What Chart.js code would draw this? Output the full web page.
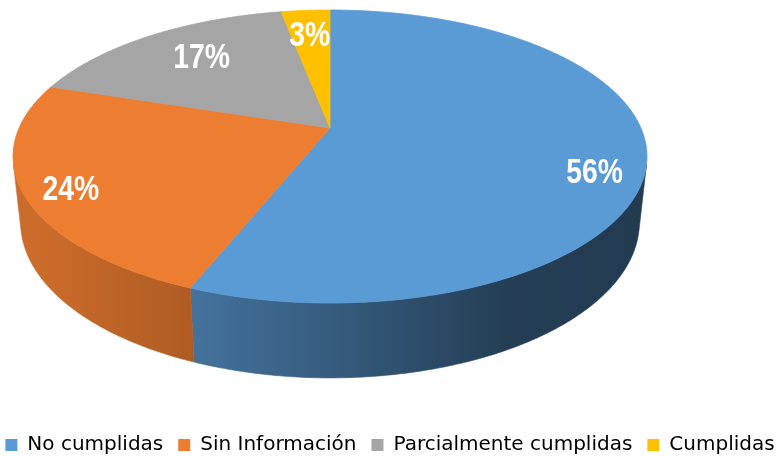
<!DOCTYPE html>
<html>
<head>
<meta charset="utf-8">
<script src="https://cdn.jsdelivr.net/npm/chart.js@4.4.1/dist/chart.umd.min.js"></script>
<style>
  html, body { margin: 0; padding: 0; background: #fff; }
  #wrap { width: 776px; height: 457px; position: relative; }
</style>
</head>
<body>
<div id="wrap"><canvas id="chart"></canvas></div>
<script>
const categories = ["No cumplidas", "Sin Información", "Parcialmente cumplidas", "Cumplidas"]
const percents = [56, 24, 17, 3]
const sliceColors = ["#5b9bd5", "#ed7d31", "#a5a5a5", "#ffc000"]

// small per-label nudges from the projected mid point of each slice
const labelShift = [[13, 21], [-18, 8], [19, 3], [0, 3]]

// camera looking down at a unit-radius disc: screen centre, focal length,
// eye distance (in radii), downward tilt and rim height
const cam = { cx: 330, cy: 128, focal: 1424, dist: 4.58, tilt: 26.96 * Math.PI / 180, rim: 0.239 }

// light falls from the left: rim shade factor across the width of the disc
const rimShade = [[0, 0.86], [0.28, 0.72], [0.5, 0.58], [0.77, 0.40], [1, 0.38]]

// X to the right, Z towards the viewer, drop 0 = top face, 1 = bottom face
function project(X, Z, drop) {
  const Y = -drop * cam.rim
  const s = Math.sin(cam.tilt), c = Math.cos(cam.tilt)
  const d = cam.dist - Y * s - Z * c
  return {
    x: cam.cx + cam.focal * X / d,
    y: cam.cy + cam.focal * (Z * s - Y * c) / d
  }
}

// t runs clockwise from the back of the disc (12 o'clock)
function rimPoint(t, drop) {
  return project(Math.sin(t), -Math.cos(t), drop)
}

function shade(hex, f) {
  const n = parseInt(hex.slice(1), 16)
  const r = Math.round(((n >> 16) & 255) * f)
  const g = Math.round(((n >> 8) & 255) * f)
  const b = Math.round((n & 255) * f)
  return `rgb(${r},${g},${b})`
}

function arcPath(ctx, t0, t1, drop, first) {
  const steps = Math.max(2, Math.ceil(Math.abs(t1 - t0) / 0.01))
  for (let i = 0; i <= steps; i++) {
    const p = rimPoint(t0 + (t1 - t0) * i / steps, drop)
    if (first && i === 0) ctx.moveTo(p.x, p.y)
    else ctx.lineTo(p.x, p.y)
  }
}

const pie3d = {
  id: "pie3d",
  beforeDatasetsDraw(chart) {
    const ctx = chart.ctx
    const meta = chart.getDatasetMeta(0)
    const values = chart.data.datasets[0].data
    const colors = chart.data.datasets[0].backgroundColor

    const slices = meta.data.map((arc, i) => ({
      t0: arc.startAngle + Math.PI / 2,
      t1: arc.endAngle + Math.PI / 2,
      color: colors[i],
      value: values[i]
    }))

    // the outer wall faces the eye only where Z > 1 / (eye distance along Z)
    const eyeZ = cam.dist * Math.cos(cam.tilt)
    const tL = Math.acos(-1 / eyeZ)
    const tR = 2 * Math.PI - tL
    const xMin = rimPoint(1.5 * Math.PI + 0.2, 0).x
    const xMax = rimPoint(0.5 * Math.PI + 0.2, 0).x

    ctx.save()
    slices.forEach(s => {
      const a = Math.max(s.t0, tL)
      const b = Math.min(s.t1, tR)
      if (b <= a) return
      const grad = ctx.createLinearGradient(xMin, 0, xMax, 0)
      rimShade.forEach(([stop, f]) => grad.addColorStop(stop, shade(s.color, f)))
      ctx.beginPath()
      arcPath(ctx, a, b, 0, true)
      arcPath(ctx, b, a, 1, false)
      ctx.closePath()
      ctx.fillStyle = grad
      ctx.fill()
      ctx.strokeStyle = grad
      ctx.lineWidth = 0.6
      ctx.stroke()
    })

    // top faces
    const apex = project(0, 0, 0)
    slices.forEach(s => {
      ctx.beginPath()
      ctx.moveTo(apex.x, apex.y)
      arcPath(ctx, s.t0, s.t1, 0, false)
      ctx.closePath()
      ctx.fillStyle = s.color
      ctx.fill()
      ctx.strokeStyle = s.color
      ctx.lineWidth = 0.8
      ctx.stroke()
    })

    // percentage labels
    ctx.fillStyle = "#fff"
    ctx.font = "bold 35px 'Liberation Sans', Arial, sans-serif"
    ctx.textAlign = "center"
    ctx.textBaseline = "alphabetic"
    slices.forEach((s, i) => {
      const tm = (s.t0 + s.t1) / 2
      const p = project(0.8 * Math.sin(tm), -0.8 * Math.cos(tm), 0)
      const x = p.x + labelShift[i][0]
      const y = p.y + labelShift[i][1]
      ctx.save()
      ctx.translate(x, y + 12.5)
      ctx.scale(0.81, 1)
      ctx.fillText(s.value + "%", 0, 0)
      ctx.restore()
    })
    ctx.restore()
    return false
  }
}

new Chart(document.getElementById("chart"), {
  type: "pie",
  data: {
    labels: categories,
    datasets: [{
      data: percents,
      backgroundColor: sliceColors,
      borderWidth: 0
    }]
  },
  options: {
    responsive: true,
    maintainAspectRatio: false,
    animation: false,
    layout: { padding: { left: -26, right: -30, top: 0, bottom: -8 } },
    plugins: {
      tooltip: { enabled: false },
      legend: {
        position: "bottom",
        labels: {
          boxWidth: 12,
          boxHeight: 12,
          padding: 15,
          color: "#000",
          font: { family: "'DejaVu Sans'", size: 20 }
        }
      }
    }
  },
  plugins: [pie3d]
})
</script>
</body>
</html>
